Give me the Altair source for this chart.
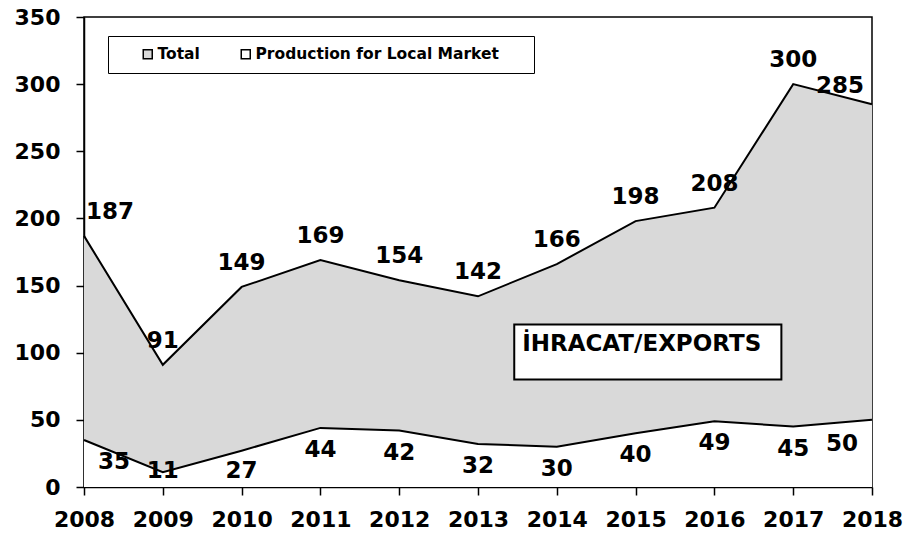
import altair as alt
import pandas as pd

FONT = "DejaVu Sans"

years = [2008, 2009, 2010, 2011, 2012, 2013, 2014, 2015, 2016, 2017, 2018]
total = [187, 91, 149, 169, 154, 142, 166, 198, 208, 300, 285]
local = [35, 11, 27, 44, 42, 32, 30, 40, 49, 45, 50]
y_ticks = [0, 50, 100, 150, 200, 250, 300, 350]
series_names = ["Total", "Production for Local Market"]
series_colors = ["#d9d9d9", "#ffffff"]

# annotation box (data units)
annot_text = ["İHRACAT/EXPORTS"]
annot_x = [2013.46]
annot_x2 = [2016.85]
annot_y = [80]
annot_y2 = [121]
annot_text_x = [2013.56]
annot_text_y = [106.5]

df = pd.DataFrame({"year": years, "total": total, "local": local})
long_df = pd.DataFrame({
    "year": years + years,
    "value": total + local,
    "series": [series_names[0]] * len(years) + [series_names[1]] * len(years),
})
ann = pd.DataFrame({"x": annot_x, "x2": annot_x2, "y": annot_y, "y2": annot_y2,
                    "tx": annot_text_x, "ty": annot_text_y, "text": annot_text})

XSCALE = alt.Scale(domain=[2008, 2018], nice=False, zero=False)
XAX = alt.Axis(values=years, format="d", title=None, labelOverlap=False, labelFlush=False)
X = alt.X("year:Q", scale=XSCALE, axis=XAX)
YSCALE = alt.Scale(domain=[0, 350], nice=False)
YAX = alt.Axis(values=y_ticks, title=None, labelOverlap=False, labelFlush=False)

base = alt.Chart(df)
lbase = alt.Chart(long_df)
color_scale = alt.Scale(domain=series_names, range=series_colors)
PAD = "\u2800"  # blank glyph used to widen the legend box on the right
COLOR = alt.Color("series:N", scale=color_scale,
                  legend=alt.Legend(title=None, symbolType="square",
                                    labelExpr="datum.label == 'Total' ? datum.label : datum.label + '"
                                    + PAD * 2 + "'"))

area_total = lbase.transform_filter(
    alt.datum.series == series_names[0]
).mark_area(opacity=1).encode(
    x=X, y=alt.Y("value:Q", scale=YSCALE, axis=YAX), color=COLOR)
area_local = lbase.transform_filter(
    alt.datum.series == series_names[1]
).mark_area(opacity=1).encode(
    x=X, y=alt.Y("value:Q", scale=YSCALE, axis=YAX), color=COLOR)

line_total = base.mark_line(color="black", strokeWidth=2).encode(
    x=X, y=alt.Y("total:Q", scale=YSCALE, axis=YAX))
line_local = base.mark_line(color="black", strokeWidth=2).encode(
    x=X, y=alt.Y("local:Q", scale=YSCALE, axis=YAX))

txt = dict(fontSize=23, fontWeight="bold", font=FONT, color="black", baseline="middle")


def labels(yfield, textfield, filt, align, dx, dy):
    return base.transform_calculate(
        lab_local="max(datum.local, 28)"
    ).transform_filter(filt).mark_text(align=align, dx=dx, dy=dy, **txt).encode(
        x=X, y=alt.Y(yfield, scale=YSCALE, axis=YAX), text=textfield)


mid = "datum.year > 2008 && datum.year < 2018"
first = "datum.year == 2008"
last = "datum.year == 2018"

tot_mid = labels("total:Q", "total:Q", mid, "center", 0, -24)
tot_first = labels("total:Q", "total:Q", first, "left", 2, -24)
tot_last = labels("total:Q", "total:Q", last, "right", -8, -18)
loc_mid = labels("lab_local:Q", "local:Q", mid, "center", 0, 22)
loc_first = labels("lab_local:Q", "local:Q", first, "left", 14, 22)
loc_last = labels("lab_local:Q", "local:Q", last, "right", -14, 24)

box = alt.Chart(ann).mark_rect(fill="white", stroke="black", strokeWidth=2).encode(
    x=alt.X("x:Q", scale=XSCALE, axis=XAX), x2="x2:Q",
    y=alt.Y("y:Q", scale=YSCALE, axis=YAX), y2="y2:Q")
box_text = alt.Chart(ann).mark_text(align="left", **txt).encode(
    x=alt.X("tx:Q", scale=XSCALE, axis=XAX),
    y=alt.Y("ty:Q", scale=YSCALE, axis=YAX), text="text:N")

chart = alt.layer(
    area_total, area_local, line_total, line_local,
    tot_mid, tot_first, tot_last, loc_mid, loc_first, loc_last,
    box, box_text,
).properties(
    width=788, height=470,
    autosize=alt.AutoSizeParams(type="none"),
    padding={"left": 76, "top": 9, "right": 32, "bottom": 44},
    background="white",
).configure_view(
    stroke="black", strokeWidth=1.5
).configure_axis(
    grid=False, domainColor="black", domainWidth=1.5, tickColor="black", tickWidth=1.5,
    tickSize=8, labelFont=FONT, labelFontSize=22, labelFontWeight="bold", labelColor="black",
).configure_axisY(
    labelPadding=16
).configure_axisX(
    labelPadding=14
).configure_legend(
    orient="none", legendX=24, legendY=19, direction="horizontal",
    strokeColor="black", fillColor="white", padding=10,
    symbolOffset=22, columnPadding=16, labelFont=FONT, labelFontSize=15.5,
    labelFontWeight="bold", labelColor="black", symbolSize=81, labelLimit=500,
    symbolStrokeColor="black", symbolStrokeWidth=1.5, labelOffset=2,
)

chart.save("out.html", embed_options={"renderer": "svg", "actions": False})
